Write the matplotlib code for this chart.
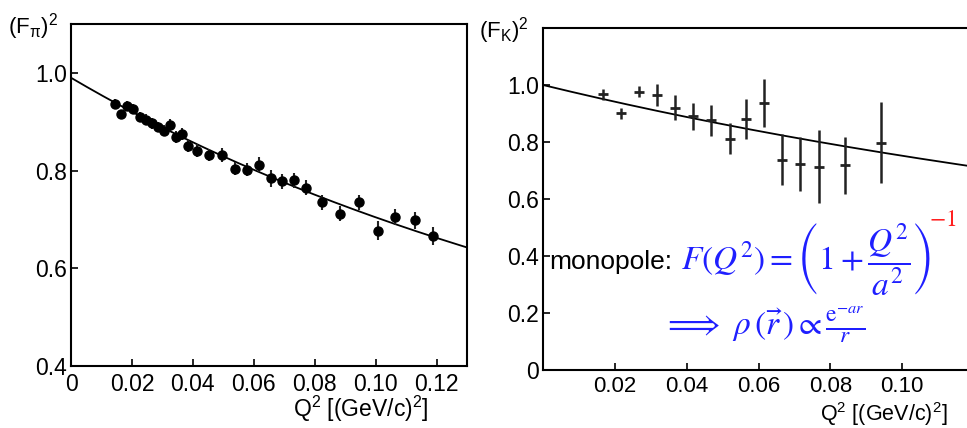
import numpy as np
from matplotlib import pyplot as plt

plt.rcParams['font.family'] = ['Liberation Sans', 'DejaVu Sans']
plt.rcParams['mathtext.fontset'] = 'custom'
plt.rcParams['mathtext.rm'] = 'Liberation Sans'
plt.rcParams['mathtext.it'] = 'Liberation Sans:italic'
plt.rcParams['mathtext.sf'] = 'Liberation Sans'

# pion form factor data (left)
pi_q2 = [0.0145, 0.0165, 0.0184, 0.0205, 0.0225, 0.0245, 0.0266, 0.0285, 0.0305, 0.0325,
         0.0344, 0.0364, 0.0384, 0.0414, 0.0454, 0.0495, 0.0538, 0.0577, 0.0617, 0.0656,
         0.0694, 0.0732, 0.0773, 0.0824, 0.0884, 0.0947, 0.1009, 0.1065, 0.1128, 0.1189]
pi_f2 = [0.937, 0.915, 0.932, 0.926, 0.909, 0.904, 0.897, 0.889, 0.882, 0.893,
         0.869, 0.875, 0.850, 0.841, 0.832, 0.832, 0.804, 0.802, 0.812, 0.784,
         0.778, 0.780, 0.765, 0.735, 0.712, 0.735, 0.677, 0.705, 0.698, 0.666]
pi_err = [0.010, 0.010, 0.010, 0.010, 0.010, 0.011, 0.011, 0.011, 0.011, 0.012,
          0.012, 0.012, 0.012, 0.013, 0.013, 0.014, 0.014, 0.014, 0.015, 0.018,
          0.015, 0.015, 0.015, 0.016, 0.016, 0.016, 0.019, 0.017, 0.018, 0.019]

# kaon form factor data (right)
k_q2 = [0.0167, 0.0218, 0.0268, 0.0318, 0.0367, 0.0417, 0.0467, 0.0520, 0.0566, 0.0616,
        0.0665, 0.0716, 0.0768, 0.0840, 0.0940]
k_f2 = [0.967, 0.901, 0.977, 0.965, 0.920, 0.890, 0.876, 0.812, 0.880, 0.938,
        0.738, 0.724, 0.713, 0.718, 0.798]
k_err = [0.020, 0.020, 0.020, 0.037, 0.044, 0.047, 0.055, 0.055, 0.070, 0.084,
         0.090, 0.095, 0.128, 0.099, 0.143]

# monopole fit parameters: F^2 = norm * (1 + Q^2/a^2)^-2
pi_norm, pi_a2 = 0.99, 0.539
k_norm, k_a2 = 1.0, 0.652

pi_xticks = [0, 0.02, 0.04, 0.06, 0.08, 0.10, 0.12]
pi_xlabels = ['0', '0.02', '0.04', '0.06', '0.08', '0.10', '0.12']
pi_yticks = [0.4, 0.6, 0.8, 1.0]
pi_ylabels = ['0.4', '0.6', '0.8', '1.0']
k_xticks = [0.02, 0.04, 0.06, 0.08, 0.10]
k_xlabels = ['0.02', '0.04', '0.06', '0.08', '0.10']
k_yticks = [0, 0.2, 0.4, 0.6, 0.8, 1.0]
k_ylabels = ['0', '0.2', '0.4', '0.6', '0.8', '1.0']

W, H = 967, 428
fig = plt.figure(figsize=(W / 100, H / 100), dpi=100)


def px(x, y):
    return x / W, 1 - y / H


def monopole(q2, norm, a2):
    return norm * (1 + q2 / a2) ** -2


def style(ax):
    for s in ax.spines.values():
        s.set_linewidth(1.5)
    ax.tick_params(direction='in', length=5, width=1.2, labelsize=16.5, pad=3)
    ax.tick_params(axis='x', pad=5)


# left panel
ax1 = fig.add_axes([71 / W, 1 - 366 / H, 396 / W, 342 / H])
q = np.linspace(0, 0.13, 200)
ax1.plot(q, monopole(q, pi_norm, pi_a2), color='black', lw=1.3)
ax1.errorbar(pi_q2, pi_f2, yerr=pi_err, fmt='o', color='black', ms=6.5,
             elinewidth=1.5, capsize=0, ecolor='#222222')
ax1.set_xlim(0, 0.13)
ax1.set_ylim(0.4, 1.1)
ax1.set_xticks(pi_xticks)
ax1.set_xticklabels(pi_xlabels)
ax1.set_yticks(pi_yticks)
ax1.set_yticklabels(pi_ylabels)
style(ax1)

# right panel (cut at the right edge of the figure)
ax2 = fig.add_axes([543 / W, 1 - 370 / H, 431 / W, 342 / H])
q = np.linspace(0, 0.12, 200)
ax2.plot(q, monopole(q, k_norm, k_a2), color='black', lw=1.3)
ax2.errorbar(k_q2, k_f2, yerr=k_err, fmt='_', color='#222222', ms=7, mew=2,
             elinewidth=1.8, capsize=0)
ax2.set_xlim(0, 0.12)
ax2.set_ylim(0, 1.2)
ax2.set_xticks(k_xticks)
ax2.set_xticklabels(k_xlabels)
ax2.set_yticks(k_yticks)
ax2.set_yticklabels(k_ylabels)
style(ax2)
ax2.tick_params(axis='x', pad=4, labelsize=16)

# axis titles
fig.text(*px(8, 33), r'$\mathrm{(F_{π})^{2}}$', fontsize=16, ha='left', va='baseline')
fig.text(*px(479, 37), r'$\mathrm{(F_{K})^{2}}$', fontsize=16, ha='left', va='baseline')
fig.text(*px(429, 417), r'Q$^2$ [(GeV/c)$^2$]', fontsize=16.5, ha='right', va='baseline')
fig.text(*px(948, 421), r'Q$^2$ [(GeV/c)$^2$]', fontsize=15.5, ha='right', va='baseline')

# formula annotation
blue = '#1f1fff'
fig.text(*px(549, 269), 'monopole:', fontsize=19, ha='left', va='baseline')
fig.text(*px(681, 270), r'$F(Q^2) = \left(1+\dfrac{Q^2}{a^2}\right)$', fontsize=24,
         color=blue, ha='left', va='baseline', math_fontfamily='stix')
fig.text(*px(929, 226), r'$-1$', fontsize=17, color='#ff2020', ha='left', va='baseline',
         math_fontfamily='stix')
fig.text(*px(663, 335), r'$\Longrightarrow\ \rho\,(\vec{r}\,) \propto \frac{\mathrm{e}^{-ar}}{r}$',
         fontsize=24, color=blue, ha='left', va='baseline', math_fontfamily='stix')

plt.savefig('out.png', dpi=100)
